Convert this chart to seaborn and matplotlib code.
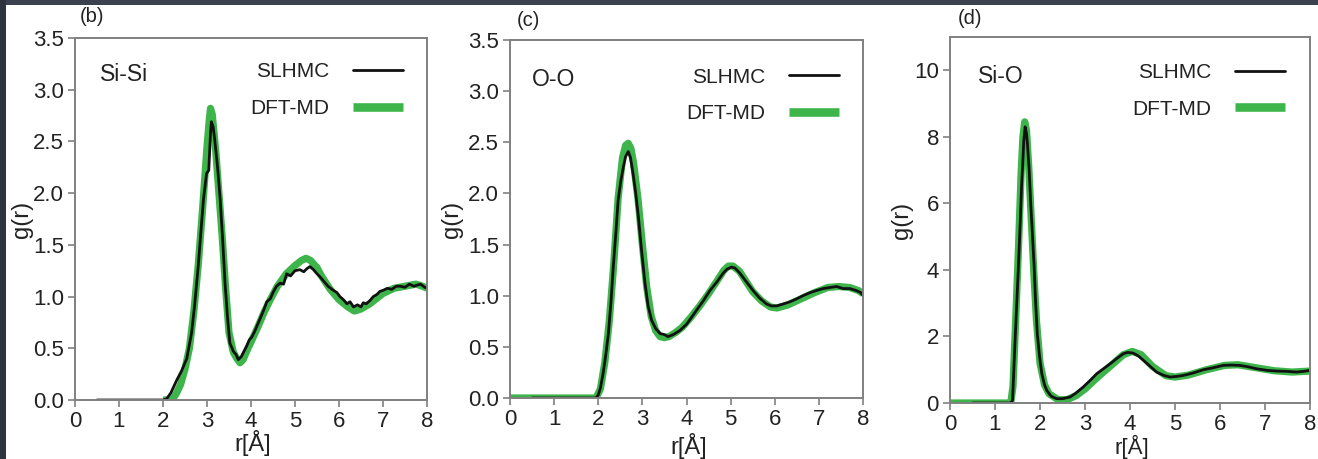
import matplotlib
matplotlib.use("Agg")
import matplotlib.pyplot as plt
from matplotlib.patches import Rectangle
import seaborn as sns

# ---- Radial distribution functions g(r) of amorphous SiO2 ----
# Si-Si
r_sisi_slhmc = [0.5, 1.0, 1.5, 2.0, 2.08, 2.18, 2.31, 2.42, 2.54, 2.65, 2.72, 2.8, 2.86, 2.92,
                2.99, 3.04, 3.08, 3.1, 3.14, 3.18, 3.24, 3.3, 3.36, 3.41, 3.47, 3.52, 3.6, 3.66,
                3.71, 3.78, 3.84, 3.9, 3.96, 4.02, 4.08, 4.13, 4.2, 4.28, 4.36, 4.44, 4.5, 4.58,
                4.66, 4.74, 4.81, 4.9, 5.0, 5.11, 5.2, 5.27, 5.34, 5.42, 5.5, 5.57, 5.65, 5.75,
                5.87, 5.95, 6.02, 6.1, 6.18, 6.25, 6.33, 6.42, 6.5, 6.55, 6.62, 6.7, 6.78, 6.86,
                6.93, 7.0, 7.1, 7.2, 7.3, 7.39, 7.5, 7.6, 7.7, 7.77, 7.85, 7.95, 8.0]
g_sisi_slhmc = [0.0, 0.0, 0.0, 0.0, 0.01, 0.07, 0.19, 0.28, 0.4, 0.65, 0.92, 1.29, 1.62, 1.94,
                2.19, 2.22, 2.58, 2.69, 2.64, 2.5, 2.25, 1.94, 1.52, 1.13, 0.78, 0.55, 0.47, 0.44,
                0.39, 0.42, 0.47, 0.52, 0.58, 0.61, 0.66, 0.71, 0.78, 0.86, 0.95, 0.98, 1.04, 1.1,
                1.13, 1.12, 1.22, 1.2, 1.25, 1.26, 1.24, 1.27, 1.29, 1.26, 1.22, 1.19, 1.15, 1.1,
                1.06, 1.04, 1.0, 0.97, 0.93, 0.95, 0.9, 0.92, 0.9, 0.94, 0.93, 0.96, 1.0, 1.02,
                1.05, 1.06, 1.08, 1.07, 1.1, 1.1, 1.09, 1.12, 1.1, 1.11, 1.12, 1.09, 1.08]
r_sisi_dft = [2.0, 2.2, 2.3, 2.4, 2.5, 2.6, 2.7, 2.8, 2.9, 3.0, 3.05, 3.08, 3.12,
              3.2, 3.28, 3.35, 3.42, 3.5, 3.6, 3.68, 3.75, 3.82, 3.9, 4.0, 4.15, 4.3, 4.45,
              4.6, 4.8, 5.0, 5.15, 5.25, 5.35, 5.5, 5.6, 5.8, 6.0, 6.2, 6.35, 6.5, 6.7, 6.85,
              7.0, 7.25, 7.5, 7.75, 7.9, 8.0]
g_sisi_dft = [0.0, 0.0, 0.06, 0.15, 0.3, 0.5, 0.85, 1.3, 1.85, 2.45, 2.7, 2.82, 2.76,
              2.4, 1.95, 1.55, 1.1, 0.65, 0.46, 0.4, 0.36, 0.39, 0.47, 0.56, 0.7, 0.85, 0.98,
              1.1, 1.22, 1.3, 1.35, 1.37, 1.35, 1.28, 1.2, 1.07, 0.97, 0.9, 0.86, 0.88, 0.93, 0.98,
              1.03, 1.08, 1.1, 1.12, 1.1, 1.08]

# O-O
r_oo_slhmc = [0.5, 1.0, 1.5, 1.95, 2.0, 2.05, 2.11, 2.17, 2.23, 2.29, 2.34, 2.4, 2.45, 2.51,
              2.57, 2.62, 2.68, 2.73, 2.79, 2.85, 2.91, 2.98, 3.06, 3.13, 3.21, 3.3, 3.4, 3.5,
              3.58, 3.7, 3.85, 4.0, 4.1, 4.23, 4.38, 4.53, 4.68, 4.83, 4.92, 5.02, 5.1, 5.21,
              5.35, 5.51, 5.65, 5.81, 5.92, 6.04, 6.2, 6.34, 6.5, 6.64, 6.8, 6.94, 7.1, 7.25,
              7.4, 7.55, 7.7, 7.85, 7.95, 8.0]
g_oo_slhmc = [0.0, 0.0, 0.0, 0.0, 0.03, 0.1, 0.24, 0.42, 0.63, 0.95, 1.28, 1.62, 1.93, 2.12,
              2.26, 2.36, 2.41, 2.35, 2.19, 2.0, 1.77, 1.45, 1.12, 0.9, 0.76, 0.68, 0.63, 0.62,
              0.6, 0.62, 0.66, 0.72, 0.78, 0.86, 0.95, 1.05, 1.13, 1.22, 1.26, 1.28, 1.27, 1.22,
              1.14, 1.05, 0.98, 0.92, 0.9, 0.9, 0.92, 0.94, 0.97, 1.0, 1.03, 1.05, 1.07, 1.08,
              1.09, 1.07, 1.07, 1.05, 1.03, 1.0]
r_oo_dft = [0.0, 1.0, 1.95, 2.05, 2.15, 2.25, 2.35, 2.45, 2.55, 2.62, 2.68, 2.74, 2.8, 2.9,
            3.0, 3.1, 3.2, 3.3, 3.4, 3.5, 3.6, 3.75, 3.9, 4.1, 4.3, 4.5, 4.7, 4.85, 4.95, 5.05,
            5.2, 5.35, 5.5, 5.7, 5.9, 6.05, 6.3, 6.6, 6.9, 7.2, 7.45, 7.7, 7.9, 8.0]
g_oo_dft = [0.0, 0.0, 0.0, 0.09, 0.35, 0.75, 1.3, 1.95, 2.35, 2.47, 2.49, 2.44, 2.3, 1.95,
            1.5, 1.08, 0.8, 0.66, 0.6, 0.59, 0.6, 0.64, 0.69, 0.79, 0.9, 1.02, 1.15, 1.25, 1.29,
            1.29, 1.24, 1.14, 1.04, 0.95, 0.89, 0.88, 0.91, 0.97, 1.03, 1.08, 1.09, 1.08, 1.05, 1.02]

# Si-O
r_sio_slhmc = [0.5, 1.0, 1.35, 1.39, 1.44, 1.48, 1.52, 1.56, 1.59, 1.62, 1.64, 1.67, 1.7,
               1.72, 1.76, 1.79, 1.83, 1.87, 1.9, 1.94, 1.99, 2.04, 2.1, 2.15, 2.25, 2.37, 2.5,
               2.67, 2.8, 2.96, 3.1, 3.26, 3.4, 3.56, 3.7, 3.85, 3.95, 4.07, 4.18, 4.3, 4.45,
               4.59, 4.75, 4.89, 5.05, 5.19, 5.4, 5.63, 5.85, 6.07, 6.25, 6.44, 6.62, 6.81,
               7.05, 7.26, 7.5, 7.7, 7.85, 8.0]
g_sio_slhmc = [0.0, 0.0, 0.0, 0.08, 1.68, 2.9, 4.09, 5.4, 6.5, 7.3, 7.9, 8.3, 8.1,
               7.8, 7.0, 6.1, 5.1, 4.1, 3.1, 2.08, 1.4, 0.88, 0.55, 0.38, 0.2, 0.13, 0.13,
               0.18, 0.3, 0.48, 0.66, 0.88, 1.02, 1.18, 1.33, 1.48, 1.52, 1.5, 1.42, 1.28, 1.1,
               0.93, 0.83, 0.78, 0.8, 0.83, 0.9, 1.0, 1.06, 1.13, 1.14, 1.13, 1.09, 1.03,
               0.98, 0.96, 0.95, 0.93, 0.95, 0.98]
r_sio_dft = [0.0, 1.0, 1.35, 1.4, 1.46, 1.52, 1.58, 1.62, 1.66, 1.7, 1.75, 1.8, 1.86, 1.92,
             2.0, 2.1, 2.2, 2.4, 2.6, 2.8, 3.0, 3.3, 3.6, 3.85, 4.05, 4.25, 4.5, 4.8, 5.0, 5.3,
             5.7, 6.1, 6.4, 6.8, 7.2, 7.6, 8.0]
g_sio_dft = [0.0, 0.0, 0.0, 0.5, 2.5, 4.6, 6.9, 8.0, 8.45, 8.2, 7.1, 5.7, 4.0, 2.5,
             1.2, 0.55, 0.28, 0.1, 0.1, 0.22, 0.42, 0.8, 1.15, 1.45, 1.55, 1.45, 1.1, 0.82, 0.78, 0.84,
             1.0, 1.13, 1.15, 1.06, 0.97, 0.93, 0.96]

pair_names = ["Si-Si", "O-O", "Si-O"]
panel_tags = ["(b)", "(c)", "(d)"]
series_names = ["SLHMC", "DFT-MD"]
x_ticks = [0, 1, 2, 3, 4, 5, 6, 7, 8]
y_ticks_sets = [[0.0, 0.5, 1.0, 1.5, 2.0, 2.5, 3.0, 3.5],
                [0.0, 0.5, 1.0, 1.5, 2.0, 2.5, 3.0, 3.5],
                [0, 2, 4, 6, 8, 10]]
y_tick_fmt = ["{:.1f}", "{:.1f}", "{:.0f}"]
y_limits = [(0, 3.5), (0, 3.5), (0, 11)]

slhmc_data = [(r_sisi_slhmc, g_sisi_slhmc), (r_oo_slhmc, g_oo_slhmc), (r_sio_slhmc, g_sio_slhmc)]
dft_data = [(r_sisi_dft, g_sisi_dft), (r_oo_dft, g_oo_dft), (r_sio_dft, g_sio_dft)]

GREEN = "#3db54a"
BLACK = "#111111"
SPINE = "#808080"
TEXT = "#222222"

sns.set_style("ticks")
plt.rcParams["font.family"] = ["Liberation Sans", "DejaVu Sans"]

W, H = 1318, 459
fig = plt.figure(figsize=(W / 100, H / 100), dpi=100)
fig.patch.set_facecolor("white")

# dark border strips along the top and left edges
fig.add_artist(Rectangle((0, 1 - 5 / H), 1, 5 / H, transform=fig.transFigure,
                         facecolor="#3c4150", edgecolor="none", zorder=0))
fig.add_artist(Rectangle((0, 0), 6 / W, 1, transform=fig.transFigure,
                         facecolor="#2f3340", edgecolor="none", zorder=0))

# axes boxes in pixels: left, right, top, bottom
boxes = [(75, 427, 38, 400), (510, 863, 40, 398), (950, 1310, 37, 403)]
tag_pos = [(92, 16), (528, 20), (970, 18)]
pair_pos = [(0.072, 0.9), (0.063, 0.89), (0.078, 0.893)]
leg_anchor = [(0.985, 0.985), (0.985, 0.975), (0.983, 0.98)]
ylabel_x = [-0.15, -0.164, -0.133]
xlabel_y = [-0.119, -0.135, -0.121]
xlabel_size = [17, 17, 16]

for i in range(3):
    l, r, t, b = boxes[i]
    ax = fig.add_axes([l / W, 1 - b / H, (r - l) / W, (b - t) / H])
    ax.set_facecolor("white")

    rd, gd = dft_data[i]
    rs, gs = slhmc_data[i]
    sns.lineplot(x=rd, y=gd, ax=ax, color=GREEN, linewidth=5.2, sort=False,
                 label=series_names[1], solid_capstyle="butt", zorder=1.5)
    sns.lineplot(x=rs, y=gs, ax=ax, color=BLACK, linewidth=2.0, sort=False,
                 label=series_names[0], zorder=2)

    ax.set_xlim(0, 8)
    ax.set_ylim(*y_limits[i])
    ax.set_xticks(x_ticks)
    ax.set_xticklabels([str(v) for v in x_ticks])
    ax.set_yticks(y_ticks_sets[i])
    ax.set_yticklabels([y_tick_fmt[i].format(v) for v in y_ticks_sets[i]])
    ax.tick_params(direction="out", length=5, width=1.2, color=SPINE,
                   labelsize=16, labelcolor=TEXT, pad=3)
    for s in ax.spines.values():
        s.set_color(SPINE)
        s.set_linewidth(1.4)
        s.set_visible(True)
        s.set_zorder(3)
    ax.set_xlabel("r[Å]", fontsize=xlabel_size[i], color=TEXT)
    ax.set_ylabel("g(r)", fontsize=17, color=TEXT)
    ax.xaxis.set_label_coords(0.505, xlabel_y[i])
    ax.xaxis.label.set_va("center")
    ax.yaxis.set_label_coords(ylabel_x[i], 0.5)
    ax.yaxis.label.set_va("center")

    ax.text(*pair_pos[i], pair_names[i], transform=ax.transAxes, fontsize=16.5,
            color=TEXT, ha="left", va="center")

    handles, labels = ax.get_legend_handles_labels()
    order = [labels.index(n) for n in series_names]
    leg = ax.legend([handles[k] for k in order], [labels[k] for k in order],
                    loc="upper right", bbox_to_anchor=leg_anchor[i],
                    frameon=False, markerfirst=False, fontsize=15,
                    handlelength=2.4, handletextpad=1.15, labelspacing=0.85)
    for txt in leg.get_texts():
        txt.set_color(TEXT)
    leg.get_lines()[1].set_linewidth(6.2)

    fig.text(tag_pos[i][0] / W, 1 - tag_pos[i][1] / H, panel_tags[i],
             fontsize=14.5, color=TEXT, ha="center", va="center")

fig.savefig("out.png", dpi=100, facecolor=fig.get_facecolor())
